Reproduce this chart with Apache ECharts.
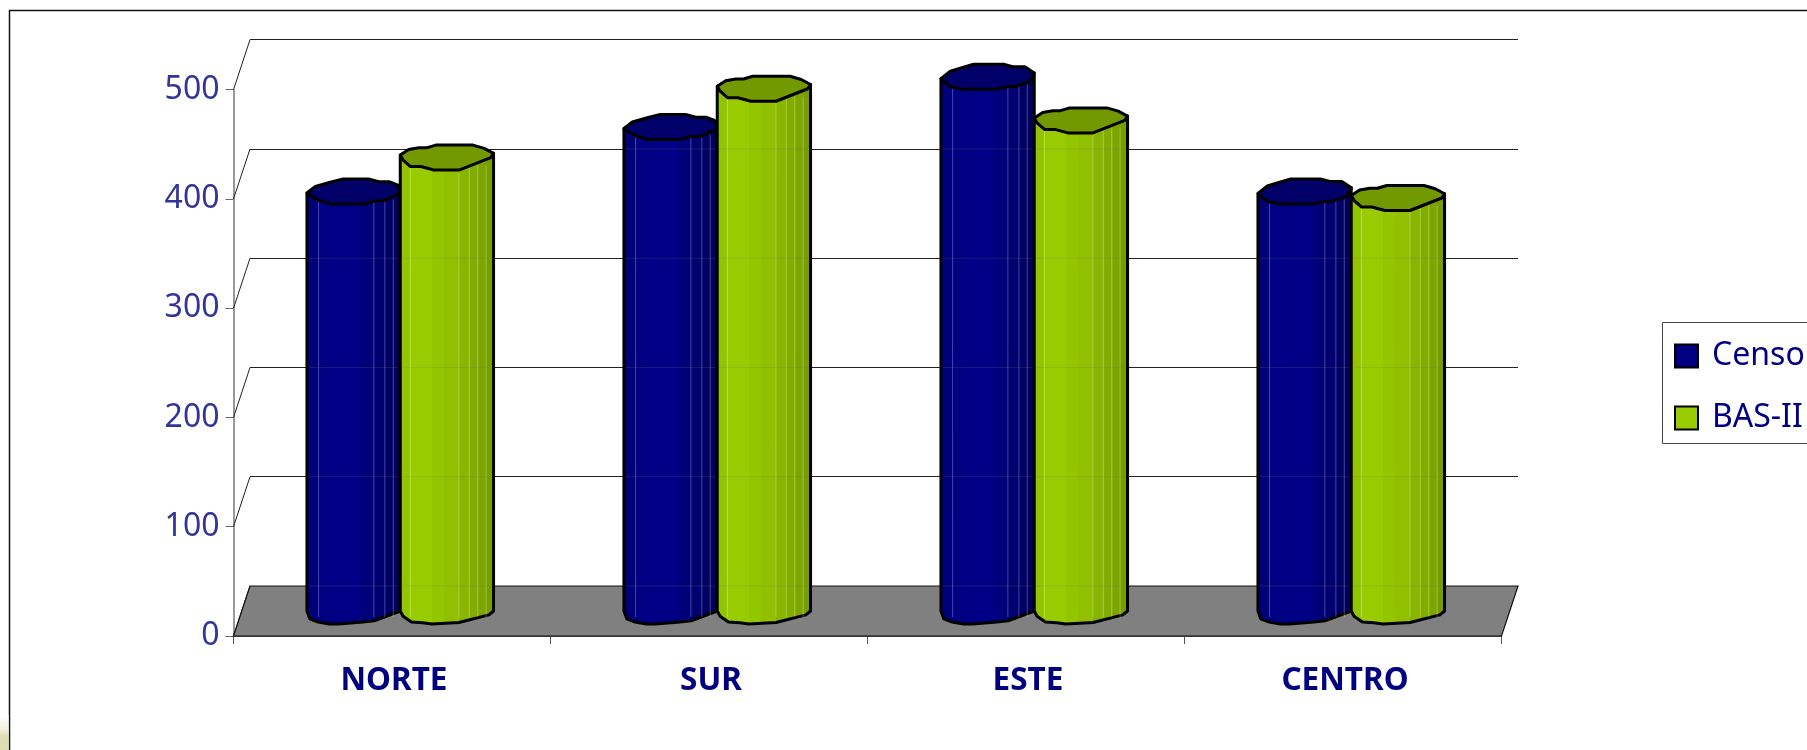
<!DOCTYPE html>
<html><head><meta charset="utf-8">
<style>html,body{margin:0;padding:0;background:#fff;overflow:hidden}#c{width:1807px;height:750px}</style>
<script src="https://cdn.jsdelivr.net/npm/echarts@6/dist/echarts.min.js"></script>
</head><body><div id="c"></div>
<script>
const categories = ['NORTE','SUR','ESTE','CENTRO'];
const censo = [384, 443, 489, 384];
const bas2 = [415, 478, 449, 378];
const yTicks = [0,100,200,300,400,500];
const seriesNames = ['Censo','BAS-II'];

const FONT = '"Noto Sans", sans-serif';
const L = 233.5, T = 89.7, W = 1268, H = 546.3, DX = 16.5, DY = 50;
const BAR = 93.3, RY = 25;
const topA = [[0,.56],[.09,.3],[.25,.13],[.39,0],[.66,0],[.77,.11],[.88,.11],[.97,.24],[1,.5],[.95,.66],[.82,.88],[.72,.88],[.61,1],[.25,1],[.11,.83]];
const topA2 = [[0,.58],[.1,.28],[.35,0],[.67,0],[.77,.1],[.9,.1],[1,.35],[.95,.69],[.8,.89],[.72,.89],[.6,1],[.24,1],[.1,.9]];
const topB = [[0,.4],[.09,.18],[.2,.11],[.28,.11],[.38,0],[.78,0],[.9,.13],[1,.33],[.97,.5],[.63,1],[.36,1],[.22,.86],[.11,.86],[.03,.6]];
const baseA = [[1,0],[.72,.75],[.6,.85],[.34,1],[.24,1],[.12,.85],[.03,.6],[0,0]];
const baseB = [[1,0],[.95,.3],[.63,.88],[.34,1],[.24,.9],[.12,.85],[.03,.4],[0,0]];
const looks = [
 {bands:[[.125,'#000078'],[.29,'#000082'],[.58,'#000086'],[.717,'#00007a'],[.835,'#000070'],[.925,'#000064'],[1,'#00005a']],cap:'#000068',tops:[topA,topA,topA2,topA2],base:baseA,lines:[.125,.717,.835,.925]},
 {bands:[[.11,'#93c400'],[.345,'#99cc00'],[.47,'#94c600'],[.63,'#90c000'],[.74,'#88b500'],[.83,'#82ad00'],[.92,'#7ca500'],[1,'#769e00']],cap:'#739900',tops:[topB,topB,topB,topB],base:baseB,lines:[.11,.63,.74,.83,.92]}
];
function bandStops(bands){
  const out=[]; let s=0;
  bands.forEach(b=>{out.push({offset:s,color:b[1]},{offset:b[0],color:b[1]}); s=b[0];});
  return out;
}
function barItem(k){
  return function(params, api){
    const look = looks[k];
    const c = api.coord([api.value(0), api.value(1)]);
    const z = api.coord([api.value(0), 0]);
    const x0 = c[0] + DX/2 + (k===0 ? -BAR : 0);
    const yt = c[1] - DY/2, yb = z[1] - DY/2;
    const capTop = yt - RY/2;
    const shape = look.tops[params.dataIndex];
    const topPts = shape.map(p=>[x0+p[0]*BAR, capTop+p[1]*RY]);
    const left = topPts[0];
    const right = topPts.filter((p,i)=>shape[i][0]===1)[0];
    const basePts = look.base.map(p=>[x0+p[0]*BAR, yb+p[1]*13]);
    const body = [left,right].concat(basePts);
    const kids = [{type:'polygon',shape:{points:body},style:{
      fill:{type:'linear',x:0,y:0,x2:1,y2:0,colorStops:bandStops(look.bands)},
      stroke:'#000',lineWidth:3,lineJoin:'round'}}];
    look.lines.forEach(u=>{
      kids.push({type:'line',shape:{x1:x0+u*BAR,y1:yt+8,x2:x0+u*BAR,y2:yb+6},style:{stroke:'rgba(255,255,255,.28)',lineWidth:1}});
    });
    yTicks.forEach(v=>{
      const y = api.coord([0,v])[1]-DY;
      if(y>yt+8) kids.push({type:'line',shape:{x1:x0+2,y1:y,x2:x0+BAR-2,y2:y},style:{stroke:'rgba(120,120,120,.22)',lineWidth:1}});
    });
    kids.push({type:'polygon',shape:{points:topPts},style:{fill:look.cap,stroke:'#000',lineWidth:3,lineJoin:'round'}});
    return {type:'group',children:kids};
  };
}
const chart = echarts.init(document.getElementById('c'),null,{renderer:'canvas'});
chart.setOption({
  animation:false,
  backgroundColor:'#fff',
  grid:[
    {left:L,top:T,width:W,height:H},
    {left:L+DX,top:T-DY,width:W,height:H}
  ],
  xAxis:[
    {type:'category',gridIndex:0,data:categories,boundaryGap:true,
     axisLine:{show:true,lineStyle:{color:'#222',width:1.5}},
     axisTick:{show:true,alignWithLabel:false,length:8,lineStyle:{color:'#555',width:1}},
     axisLabel:{color:'#000080',fontFamily:FONT,fontWeight:'bold',fontSize:31.5,margin:29,padding:[0,0,0,4]}},
    {type:'category',gridIndex:1,data:categories,show:false}
  ],
  yAxis:[
    {type:'value',gridIndex:0,min:0,max:500,interval:100,
     axisLine:{show:true,lineStyle:{color:'#777',width:1.5}},
     axisTick:{show:true,length:8,lineStyle:{color:'#666',width:1}},
     splitLine:{show:false},
     axisLabel:{color:'#333399',fontFamily:FONT,fontSize:32,margin:14}},
    {type:'value',gridIndex:1,min:0,max:500,interval:100,
     axisLine:{show:false},axisTick:{show:false},axisLabel:{show:false},
     splitLine:{show:true,lineStyle:{color:'#222',width:1}}}
  ],
  legend:{left:1674,top:340,orient:'vertical',itemWidth:23,itemHeight:23,itemGap:30,selectedMode:false,
    padding:0,data:seriesNames.map(n=>({name:n,icon:'rect'})),
    textStyle:{color:'#000080',fontFamily:FONT,fontSize:32,padding:[0,0,0,9]}},
  graphic:[
    {type:'rect',silent:true,z:-2,shape:{x:9.5,y:10.5,width:1830,height:760},style:{fill:'#fff',stroke:'#111',lineWidth:1.5}},
    {type:'rect',silent:true,z:-1,shape:{x:1662.5,y:322.5,width:170,height:121},style:{fill:'#fff',stroke:'#444',lineWidth:1}},
    {type:'rect',silent:true,z:-1,shape:{x:0,y:715,width:8.5,height:35},style:{fill:{type:'linear',x:0,y:0,x2:0,y2:1,colorStops:[{offset:0,color:'#fff'},{offset:.4,color:'#f4f3e0'},{offset:.6,color:'#dfdeb6'},{offset:1,color:'#dddcb0'}]}}}
  ],
  series:[
    {type:'custom',name:'walls',coordinateSystem:'cartesian2d',xAxisIndex:0,yAxisIndex:0,z:1,silent:true,
     data:yTicks.map(v=>[0,v]),encode:{x:0,y:1},
     renderItem:(p,api)=>{
       const v = api.value(1), a = api.coord([0,v]), y = a[1], items=[];
       items.push({type:'line',shape:{x1:L,y1:y,x2:L+DX,y2:y-DY},style:{stroke:'#222',lineWidth:1}});
       if(v===0){
         items.push({type:'polygon',shape:{points:[[L,y],[L+DX,y-DY],[L+DX+W,y-DY],[L+W,y]]},style:{fill:'#808080',stroke:'#111',lineWidth:1.2}});
       }
       return {type:'group',children:items};
     }},
    {type:'custom',name:seriesNames[0],coordinateSystem:'cartesian2d',xAxisIndex:0,yAxisIndex:0,z:3,silent:true,
     itemStyle:{color:'#000080',borderColor:'#000',borderWidth:2.5},
     data:censo.map((v,i)=>[i,v]),encode:{x:0,y:1},clip:false,renderItem:barItem(0)},
    {type:'custom',name:seriesNames[1],coordinateSystem:'cartesian2d',xAxisIndex:0,yAxisIndex:0,z:4,silent:true,
     itemStyle:{color:'#99cc00',borderColor:'#000',borderWidth:2.5},
     data:bas2.map((v,i)=>[i,v]),encode:{x:0,y:1},clip:false,renderItem:barItem(1)}
  ]
});
</script></body></html>
